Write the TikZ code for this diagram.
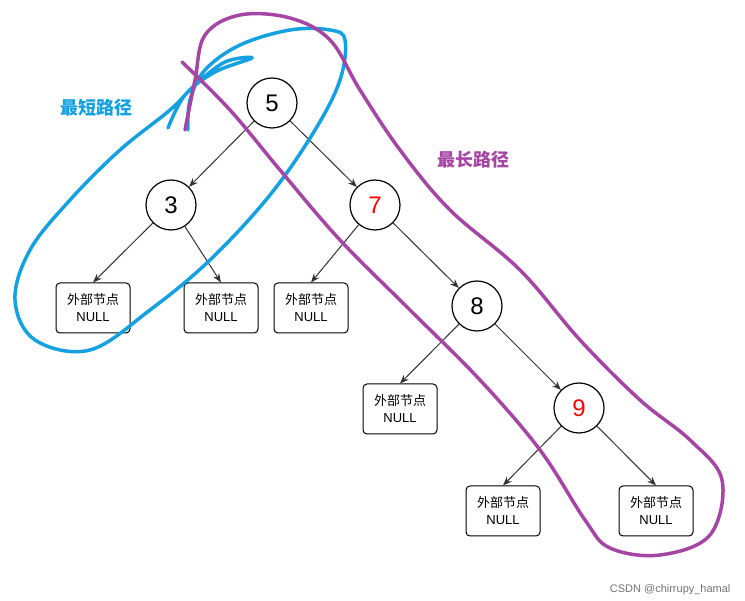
\documentclass[tikz,border=0pt]{standalone}
\usepackage{fontspec}
\setmainfont{Liberation Sans}
\newfontfamily\cjk{Noto Sans CJK SC}
\usetikzlibrary{arrows.meta}
\definecolor{bluepen}{RGB}{20,160,225}
\definecolor{purplepen}{RGB}{165,70,165}
\tikzset{
 num/.style={circle,draw,line width=1.2pt,minimum size=50pt,inner sep=0pt,font=\fontsize{24}{24}\selectfont},
 leaf/.style={draw,line width=1pt,rounded corners=4pt,minimum width=74pt,minimum height=50pt,align=center,font=\fontsize{13}{17}\selectfont},
 edge/.style={draw=black!80,line width=1pt,-{Stealth[length=9pt,width=7pt]}},
 pen/.style={line width=3.5pt,line cap=round,line join=round}
}
\begin{document}
\begin{tikzpicture}[x=1pt,y=-1pt]
\useasboundingbox (0,0) rectangle (745,601);
\node[num] (n5) at (272,103) {5};
\node[num] (n3) at (171,205) {3};
\node[num,text=red] (n7) at (375,205) {7};
\node[num] (n8) at (477,306) {8};
\node[num,text=red] (n9) at (579,408) {9};
\node[leaf] (l1) at (93,308) {{\cjk 外部节点}\\NULL};
\node[leaf] (l2) at (221,308) {{\cjk 外部节点}\\NULL};
\node[leaf] (l3) at (311,308) {{\cjk 外部节点}\\NULL};
\node[leaf] (l4) at (400,409) {{\cjk 外部节点}\\NULL};
\node[leaf] (l5) at (503,511) {{\cjk 外部节点}\\NULL};
\node[leaf] (l6) at (656,511) {{\cjk 外部节点}\\NULL};
\path[edge] (n5) -- (n3);
\path[edge] (n5) -- (n7);
\path[edge] (n3) -- (l1.north);
\path[edge] (n3) -- (l2.north);
\path[edge] (n7) -- (l3.north);
\path[edge] (n7) -- (n8);
\path[edge] (n8) -- (l4.north);
\path[edge] (n8) -- (n9);
\path[edge] (n9) -- (l5.north);
\path[edge] (n9) -- (l6.north);
\node[text=bluepen,font=\cjk\bfseries\fontsize{18}{18}\selectfont] (tb) at (96,108) {最短路径};
\node[text=purplepen,font=\cjk\bfseries\fontsize{18}{18}\selectfont] (tp) at (473,160) {最长路径};
\node[text=black!55,font=\fontsize{11}{11}\selectfont,anchor=east] (wm) at (734,590) {CSDN @chirrupy\_hamal};
\draw[pen,bluepen] plot[smooth,tension=0.6] coordinates {(168,128) (185,95) (215,72) (252,58) (225,62) (195,85) (170,110) (120,150) (70,200) (30,250) (15,300) (35,340) (90,350) (150,310) (210,260) (270,195) (315,130) (340,80) (345,40) (330,30) (290,30) (240,45) (205,70) (190,100) (188,130)};
\draw[pen,purplepen] plot[smooth,tension=0.6] coordinates {(182,62) (230,110) (280,170) (340,240) (410,310) (480,380) (540,450) (585,520) (610,548) (660,555) (710,535) (722,480) (690,440) (640,400) (580,340) (520,270) (450,210) (400,150) (360,90) (330,40) (290,18) (240,15) (205,35) (195,80) (185,130)};
\end{tikzpicture}
\end{document}
